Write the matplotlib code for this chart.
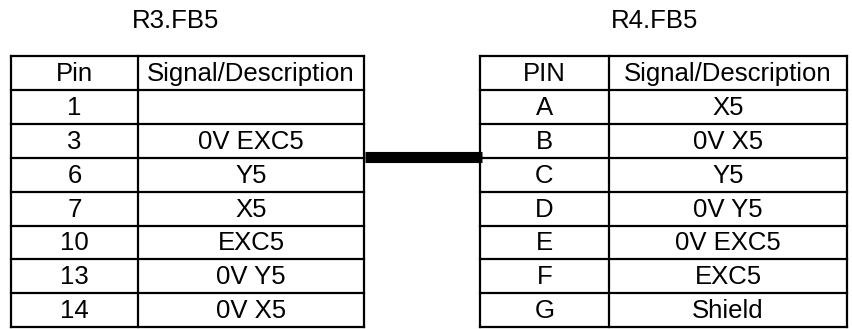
import matplotlib
matplotlib.use('Agg')
import matplotlib.pyplot as plt

# Table contents
left_title = "R3.FB5"
left_header = ["Pin", "Signal/Description"]
left_pins = ["1", "3", "6", "7", "10", "13", "14"]
left_signals = ["", "0V EXC5", "Y5", "X5", "EXC5", "0V Y5", "0V X5"]

right_title = "R4.FB5"
right_header = ["PIN", "Signal/Description"]
right_pins = ["A", "B", "C", "D", "E", "F", "G"]
right_signals = ["X5", "0V X5", "Y5", "0V Y5", "0V EXC5", "EXC5", "Shield"]

W, H = 853, 329
plt.rcParams['font.family'] = ['Liberation Sans', 'DejaVu Sans']

fig = plt.figure(figsize=(W / 100, H / 100), dpi=100)
ax = fig.add_axes([0, 0, 1, 1])
ax.set_xlim(0, W)
ax.set_ylim(H, 0)
ax.axis('off')

TOP = 56
ROW_H = 33.9
FS = 18.5


def draw_table(x0, xdiv, x1, title, title_x, header, pins, signals):
    n_rows = len(pins) + 1
    edges = [TOP + i * ROW_H for i in range(n_rows + 1)]
    # horizontal lines
    for y in edges:
        ax.plot([x0, x1], [y, y], color='black', lw=1.6, solid_capstyle='projecting')
    # vertical lines
    for x in (x0, xdiv, x1):
        ax.plot([x, x], [edges[0], edges[-1]], color='black', lw=1.6, solid_capstyle='projecting')
    ax.text(title_x, 21, title, ha='center', va='center', fontsize=FS)
    cells = [header] + [[p, s] for p, s in zip(pins, signals)]
    for i, (p, s) in enumerate(cells):
        yc = (edges[i] + edges[i + 1]) / 2 + 1
        ax.text((x0 + xdiv) / 2, yc, p, ha='center', va='center', fontsize=FS)
        ax.text((xdiv + x1) / 2, yc, s, ha='center', va='center', fontsize=FS)


draw_table(11, 138, 364, left_title, 176, left_header, left_pins, left_signals)
draw_table(480, 609, 847, right_title, 655, right_header, right_pins, right_signals)

# connecting cable
ax.plot([365, 482], [157, 157], color='black', lw=8, solid_capstyle='butt')

fig.savefig('out.png', dpi=100, facecolor='white')
